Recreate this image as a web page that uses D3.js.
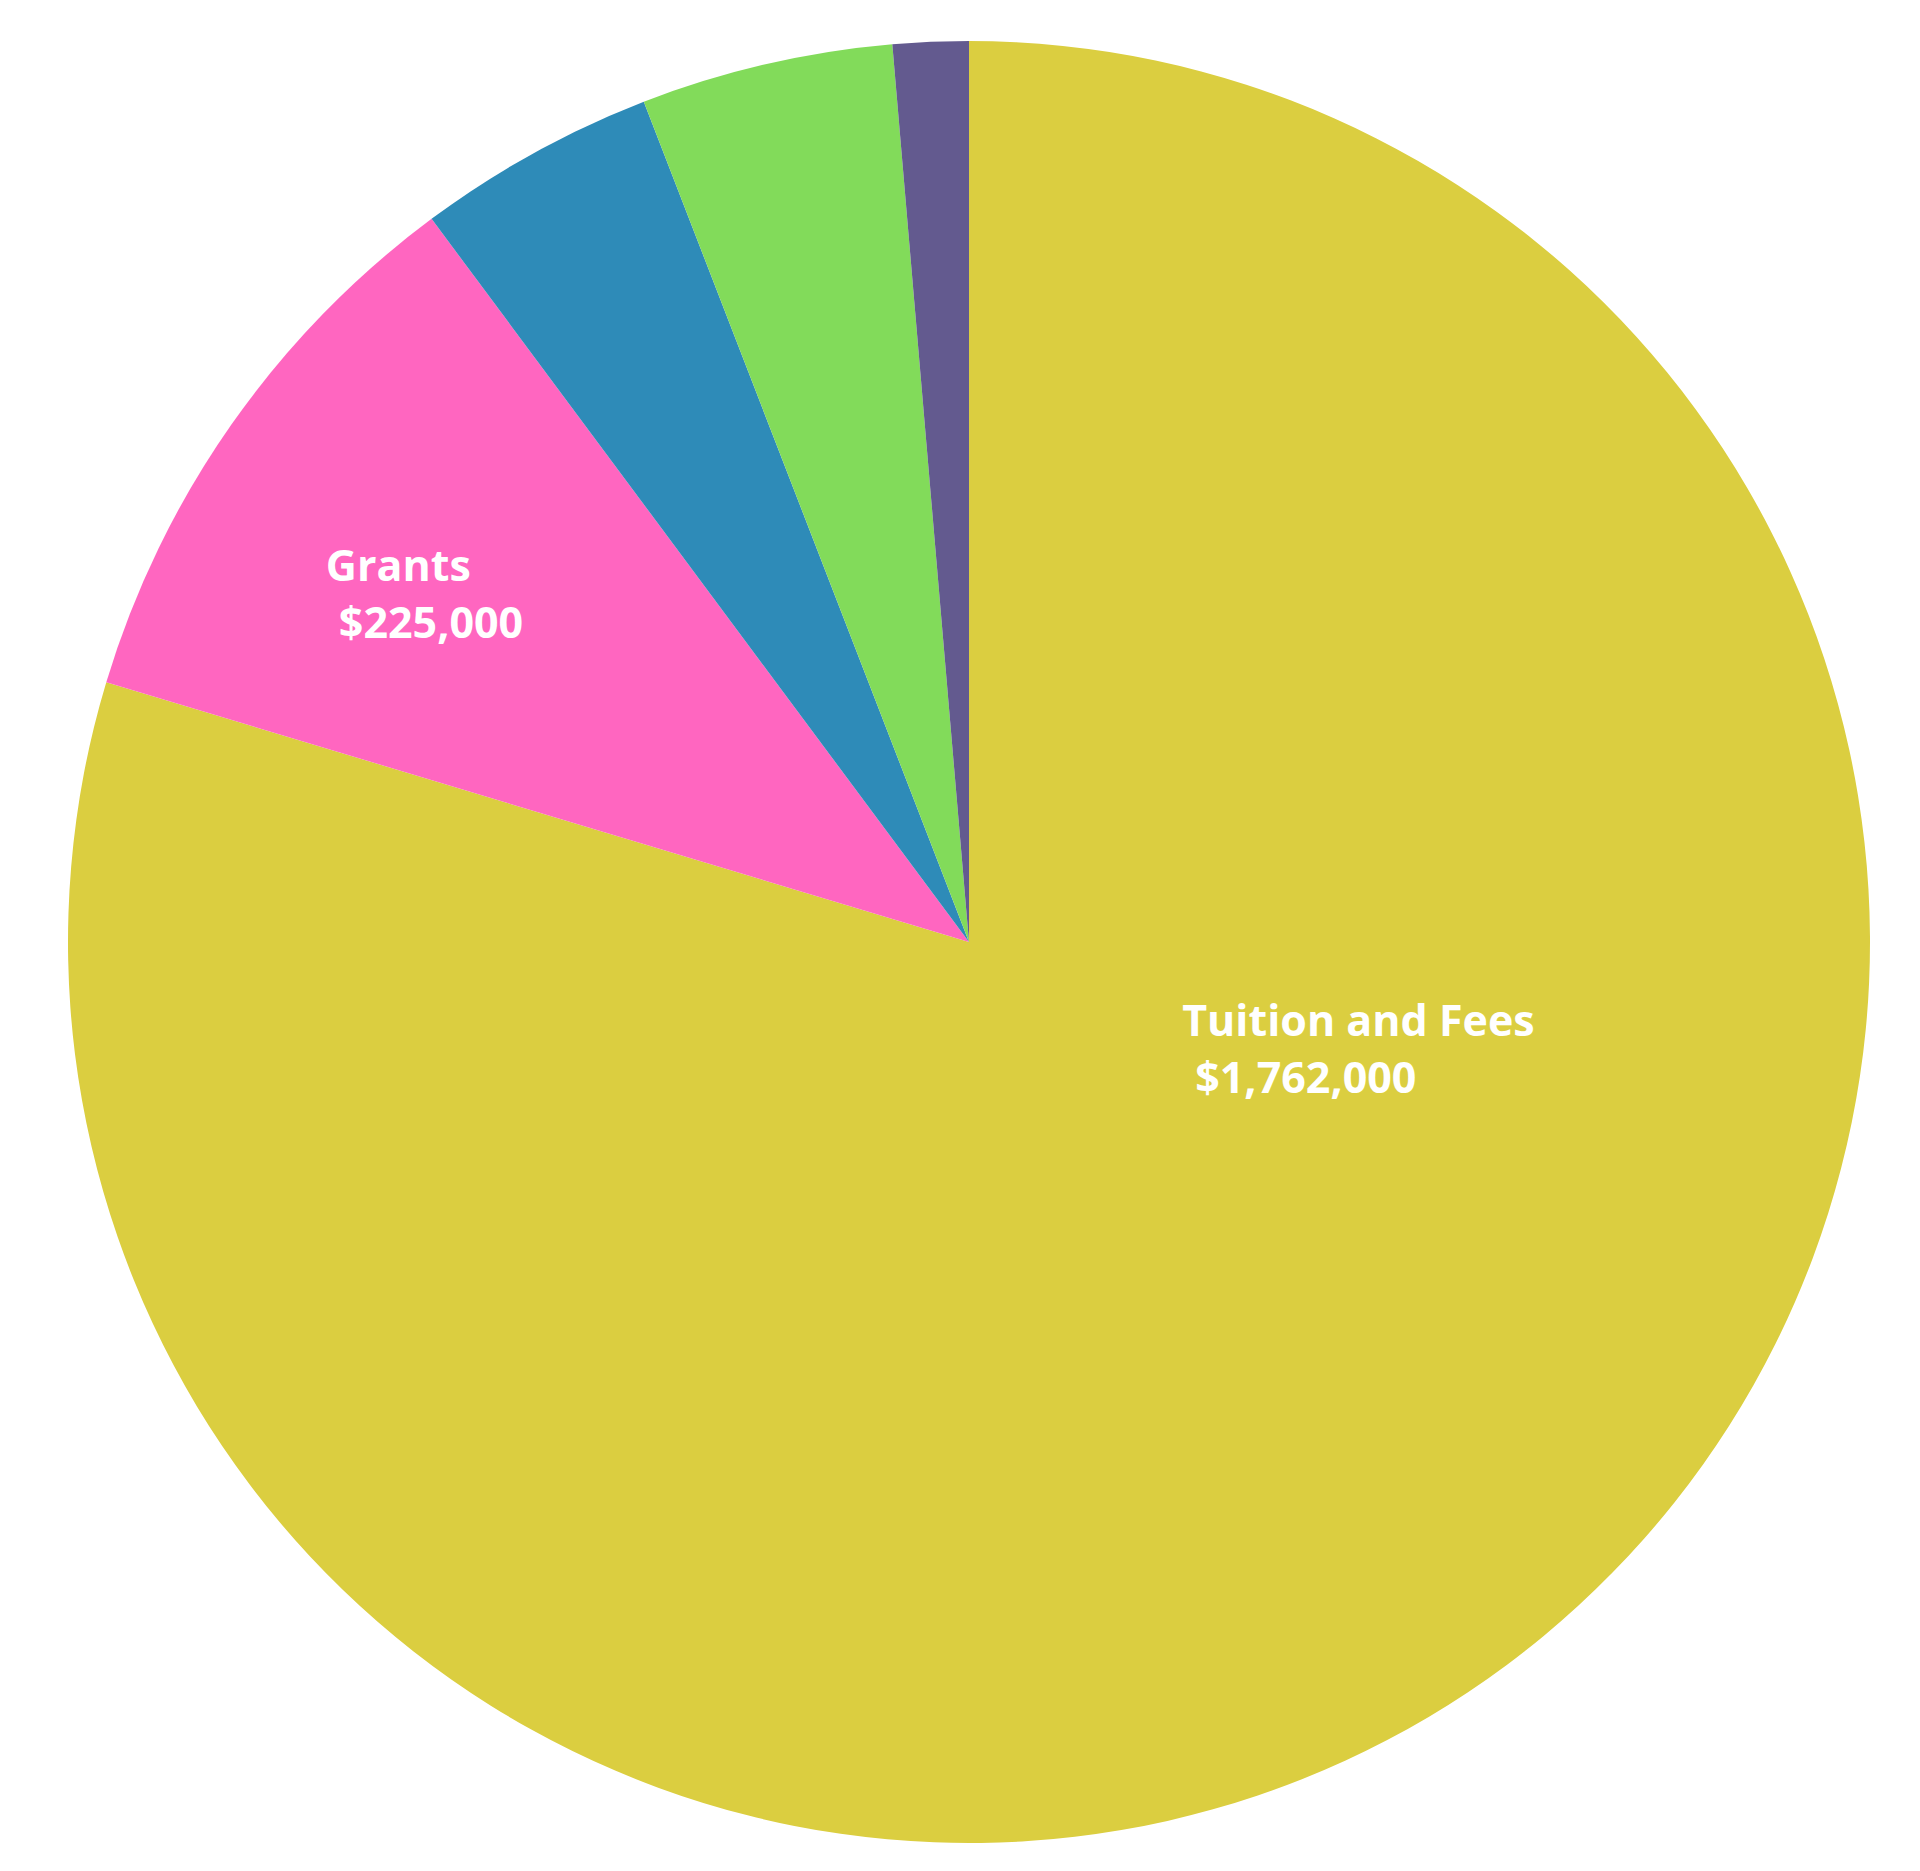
<!DOCTYPE html>
<html>
<head>
<meta charset="utf-8">
<script src="https://cdn.jsdelivr.net/npm/d3@7"></script>
<style>
  html, body { margin: 0; padding: 0; background: #fff; }
  #chart { width: 1920px; height: 1871px; }
</style>
</head>
<body>
<div id="chart"></div>
<script>
// revenue sources, clockwise from 12 o'clock
const categories = ['Tuition and Fees', 'Grants', 'Donations', 'Fundraising', 'Other'];
const amounts = [1762000, 225000, 95000, 100000, 30000];
const colors = ['#dbce40', '#ff66c0', '#2e8bb8', '#82db5a', '#635a8f'];
// only the two big slices carry a label
const labelled = ['Tuition and Fees', 'Grants'];

const width = 1920;
const height = 1871;
const radius = 901;
const cx = 969;
const cy = 942;

const data = categories.map((name, i) => ({ name, value: amounts[i] }));

const pie = d3.pie()
  .sort(null)
  .value((d) => d.value);

const arc = d3.arc()
  .innerRadius(0)
  .outerRadius(radius);

const labelArc = d3.arc()
  .innerRadius(radius * 0.7)
  .outerRadius(radius * 0.7);

// nudges from the label arc centroid to where the text block starts
const labelNudge = {
  'Tuition and Fees': [-163, -412],
  Grants: [-127, 1],
};

const color = d3.scaleOrdinal()
  .domain(categories)
  .range(colors);

const fmt = d3.format('$,');

const svg = d3.select('#chart')
  .append('svg')
  .attr('width', width)
  .attr('height', height)
  .attr('viewBox', [0, 0, width, height]);

const g = svg.append('g')
  .attr('transform', `translate(${cx},${cy})`);

const arcs = pie(data);

g.selectAll('path')
  .data(arcs)
  .join('path')
  .attr('fill', (d) => color(d.data.name))
  .attr('d', arc);

const labels = g.selectAll('text')
  .data(arcs.filter((d) => labelled.includes(d.data.name)))
  .join('text')
  .attr('transform', (d) => {
    const [x, y] = labelArc.centroid(d);
    const [nx, ny] = labelNudge[d.data.name];
    return `translate(${x + nx},${y + ny})`;
  })
  .attr('fill', '#fff')
  .attr('font-family', '"Open Sans", sans-serif')
  .attr('font-weight', 700)
  .attr('font-size', 43);

labels.append('tspan')
  .attr('x', 0)
  .attr('y', 0)
  .text((d) => d.data.name);

labels.append('tspan')
  .attr('x', 13)
  .attr('y', 57)
  .text((d) => fmt(d.data.value));
</script>
</body>
</html>
